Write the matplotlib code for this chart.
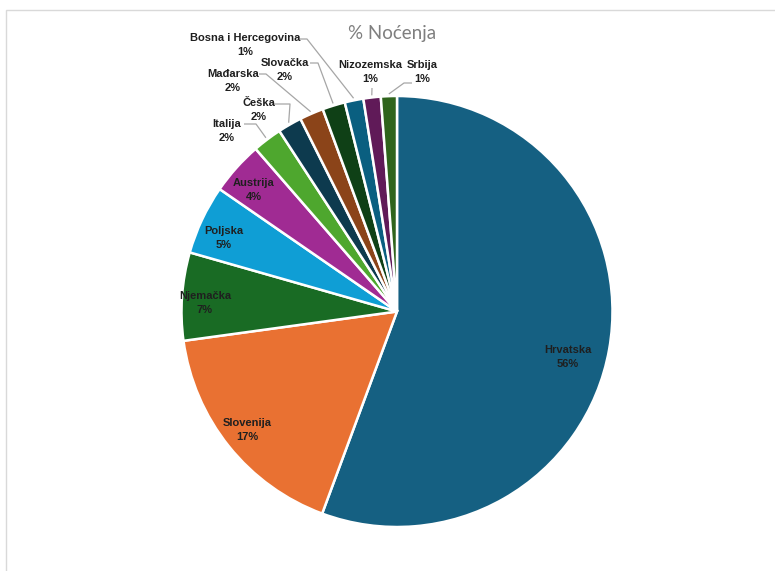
import numpy as np
import matplotlib
matplotlib.use("Agg")
from matplotlib import pyplot as plt
from matplotlib.patches import Rectangle

# share of overnight stays per country (%)
countries = ["Hrvatska", "Slovenija", "Njemačka", "Poljska", "Austrija", "Italija",
             "Češka", "Mađarska", "Slovačka", "Bosna i Hercegovina", "Nizozemska", "Srbija"]
shares = [55.7, 17.2, 6.6, 5.2, 4.0, 2.2, 1.8, 1.8, 1.7, 1.4, 1.3, 1.2]
pct_labels = ["56%", "17%", "7%", "5%", "4%", "2%", "2%", "2%", "2%", "1%", "1%", "1%"]
colors = ["#156082", "#E97132", "#196B24", "#0F9ED5", "#A02B93", "#4EA72E",
          "#0D3A4E", "#8B4419", "#0F4016", "#0A5F80", "#601A58", "#2F641C"]

W, H = 775, 571
CX, CY, R = 397, 311.5, 215.5   # pie centre / radius in pixels


def px(x, y):
    # pixel position -> data coords (pie radius = 1)
    return (x - CX) / R, (CY - y) / R


fig = plt.figure(figsize=(W / 100, H / 100), dpi=100)
ax = fig.add_axes([0, 0, 1, 1])
ax.axis("off")

# chart frame
fig.patches.append(Rectangle((6 / W, -0.05), 1.1, 1.05 - 10 / H, transform=fig.transFigure,
                             fill=False, edgecolor="#D9D9D9", linewidth=1))

wedges, _ = ax.pie(shares, colors=colors, startangle=90, counterclock=False, radius=1,
                   wedgeprops=dict(edgecolor="white", linewidth=1.8))
ax.set_xlim(-CX / R, (W - CX) / R)
ax.set_ylim(-(H - CY) / R, CY / R)
ax.set_aspect("auto")

lab_font = dict(family=["Liberation Sans", "DejaVu Sans"], fontsize=8,
                fontweight="bold", color="#1F1F1F", ha="center", va="center",
                linespacing=1.45)

# inside labels (pixel positions of the text block centre)
inside_pos = {0: (568, 357), 1: (247, 430), 2: (205, 303), 3: (224, 238), 4: (254, 190)}
for i, (x, y) in inside_pos.items():
    ax.text(*px(x, y), f"{countries[i]}\n{pct_labels[i]}", **lab_font)

# outside labels: text centre, leader start, leader knee
outside = {
    5: ((227, 131), (244, 124), (256, 124)),
    6: ((259, 110), (273, 104), (290, 104)),
    7: ((233, 81), (259, 74), (266, 74)),
    8: ((285, 70), (310, 63), (318, 63)),
    9: ((245, 45), (300, 39), (307, 39)),
    10: ((370, 72), (372, 88), (372, 88)),
    11: ((422, 72), (412, 83), (404, 83)),
}
for i, (tpos, start, knee) in outside.items():
    ax.text(*px(*tpos), f"{countries[i]}\n{pct_labels[i]}", **lab_font)
    w = wedges[i]
    mid = np.deg2rad((w.theta1 + w.theta2) / 2)
    ex, ey = np.cos(mid) * 1.01, np.sin(mid) * 1.01
    sx, sy = px(*start)
    kx, ky = px(*knee)
    ax.plot([sx, kx, ex], [sy, ky, ey], color="#A6A6A6", linewidth=0.9,
            solid_capstyle="butt", zorder=0.5)

ax.text(*px(392, 33), "% Noćenja", family=["Lato", "DejaVu Sans"], fontsize=13.5,
        color="#7F7F7F", ha="center", va="center")

fig.savefig("out.png", dpi=100)
